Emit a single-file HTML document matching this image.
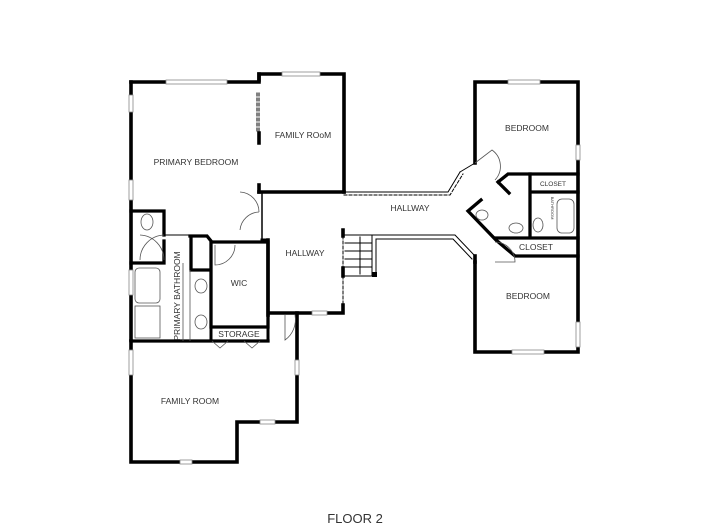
<!DOCTYPE html>
<html><head><meta charset="utf-8"><style>
html,body{margin:0;padding:0;background:#fff;}
svg{display:block}
text{font-family:"Liberation Sans",sans-serif;fill:#333;}
</style></head><body>
<svg width="720" height="531" viewBox="0 0 720 531" xmlns="http://www.w3.org/2000/svg">
<g fill="none" stroke="#000" stroke-linecap="square">
<!-- Primary bedroom -->
<path d="M131 82 H259 V74 H344 V192" stroke-width="3.6"/>
<path d="M259 74 V80 M259 133 V143" stroke-width="3.6"/>
<path d="M259 93 V133" stroke-width="1" stroke-dasharray="3,2"/>
<path d="M257 93 V133" stroke-width="1" stroke-dasharray="3,2"/>
<path d="M259 185 V192" stroke-width="3.6"/>
<path d="M131 82 V340" stroke-width="3.6"/>
<path d="M344 192 H259" stroke-width="3.6"/>
<!-- bathroom area -->
<path d="M131 211 H164 V235 M164 241 V263 H131" stroke-width="3.3"/>
<path d="M164 235 H190" stroke-width="1"/>
<path d="M190 236 H207 L211 241 V242 H268 V327 H211 V242 M211 242 V270 H191 V236" stroke-width="3.3"/>
<path d="M211 327 V341 H268 V327" stroke-width="3"/>
<path d="M131 341 H268" stroke-width="3.3"/>
<!-- hall -->
<path d="M262 192 V240" stroke-width="1.5"/>
<path d="M268 240 V315 M268 313 H312 M327 313 H343 V305 M343 276 V268 M343 236 V230" stroke-width="3.6"/>
<path d="M343 236 V305" stroke-width="1" stroke-dasharray="3,2"/>
<path d="M268 240 H262" stroke-width="3"/>
<!-- hallway top double wall -->
<path d="M344 192 H448 L460 172" stroke-width="1"/>
<path d="M344 195 H450 L463 174" stroke-width="1" stroke-dasharray="3,2"/>
<!-- stairs -->
<path d="M345 235 H372 V276 H345 M345 243 H372 M345 251 H372 M345 259 H372 M345 267 H372 M360 237 V274" stroke-width="1"/>
<path d="M372 276 V235 H455 L475 256 M376 276 V239 H453 L472 259" stroke-width="1"/>
<rect x="372" y="272" width="5" height="5" fill="#000" stroke="none"/>
<!-- lower family room -->
<path d="M131 341 V462 H237 V422 H297 V313" stroke-width="3.6"/>
<path d="M268 341 V327" stroke-width="3"/>
<!-- right bedrooms -->
<path d="M475 163 V82 H578 V352 H475 V262" stroke-width="3.6"/>
<path d="M475 163 L460 172" stroke-width="1"/>
<path d="M498 182 L508 174 H578 M498 182 L509 193" stroke-width="3.3"/>
<path d="M481 200 L468 211 L496 240 L515 256 H578" stroke-width="3.3"/>
<path d="M530 174 V238 M530 192 H578 M496 238 H578" stroke-width="3.3"/>
<path d="M475 262 V256" stroke-width="3.6"/>
</g>
<!-- windows (white gaps) -->
<g fill="#fff" stroke="#888" stroke-width="0.8">
<rect x="166" y="80" width="61" height="4"/>
<rect x="282" y="72" width="38" height="4"/>
<rect x="129" y="95" width="4" height="17"/>
<rect x="129" y="180" width="4" height="20"/>
<rect x="129" y="270" width="4" height="25"/>
<rect x="129" y="350" width="4" height="25"/>
<rect x="295" y="360" width="4" height="15"/>
<rect x="260" y="420" width="15" height="4"/>
<rect x="180" y="460" width="12" height="4"/>
<rect x="508" y="80" width="32" height="4"/>
<rect x="512" y="350" width="32" height="4"/>
<rect x="576" y="145" width="4" height="15"/>
<rect x="576" y="322" width="4" height="25"/>
<rect x="312" y="311" width="15" height="4"/>
</g>
<!-- fixtures -->
<g fill="none" stroke="#555" stroke-width="0.8">
<rect x="135" y="268" width="25" height="35" rx="4"/>
<rect x="135" y="306" width="25" height="32"/>
<ellipse cx="147" cy="222" rx="6" ry="8"/>
<ellipse cx="201" cy="286" rx="6" ry="7"/>
<ellipse cx="201" cy="322" rx="6" ry="7"/>
<path d="M183 263 V341 M190 270 V341"/>
<rect x="557" y="199" width="17" height="34" rx="5"/>
<ellipse cx="538" cy="225" rx="5" ry="7"/>
<ellipse cx="516" cy="228" rx="7" ry="5"/>
<ellipse cx="482" cy="215" rx="6" ry="5"/>
<path d="M140 235 A25 25 0 0 1 164 260 M164 235 A25 25 0 0 0 140 260"/>
<path d="M240 192 A20 20 0 0 1 259 212 M240 230 A20 20 0 0 1 259 212"/>
<path d="M215 245 V265 A20 20 0 0 0 235 245"/>
<path d="M285 315 V340 A25 25 0 0 0 295 315"/>
<path d="M475 163 L492 150 A20 20 0 0 1 495 180"/>
<path d="M495 242 A20 20 0 0 1 515 262 L495 262"/>
<path d="M212 341 L220 348 L228 341 M244 341 L252 348 L260 341"/>
</g>
<g font-size="8.5" text-anchor="middle">
<text x="196" y="165">PRIMARY BEDROOM</text>
<text x="303" y="138">FAMILY ROoM</text>
<text x="305" y="256">HALLWAY</text>
<text x="410" y="211">HALLWAY</text>
<text x="239" y="286">WIC</text>
<text x="239" y="337">STORAGE</text>
<text x="190" y="404">FAMILY ROOM</text>
<text x="527" y="131">BEDROOM</text>
<text x="528" y="299">BEDROOM</text>
<text x="536" y="250">CLOSET</text>
<text x="553" y="186" font-size="6.5">CLOSET</text>
<text x="0" y="0" transform="translate(180,296) rotate(-90)">PRIMARY BATHROOM</text>
<text x="0" y="0" font-size="4" transform="translate(551,208) rotate(90)">BATHROOM</text>
</g>
<text x="355" y="523" font-size="13" text-anchor="middle">FLOOR 2</text>
</svg>
</body></html>
